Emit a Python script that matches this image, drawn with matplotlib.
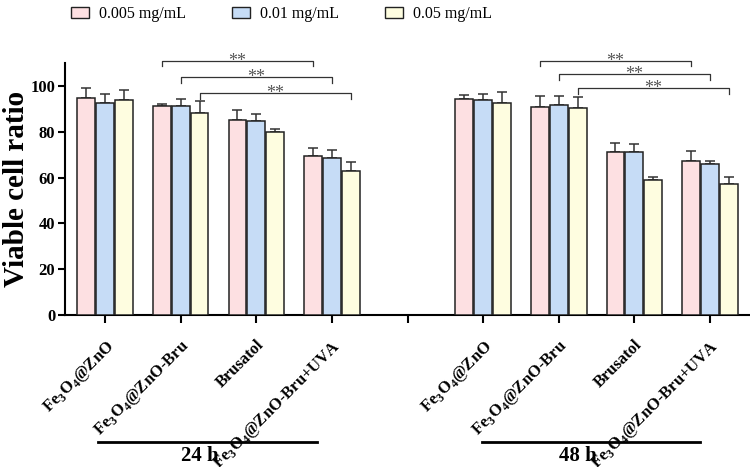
import matplotlib
matplotlib.use('Agg')
import matplotlib.pyplot as plt
import numpy as np
from matplotlib.patches import Patch

plt.rcParams['font.family'] = 'Liberation Serif'
plt.rcParams['mathtext.fontset'] = 'custom'
plt.rcParams['mathtext.rm'] = 'Liberation Serif:bold'
plt.rcParams['mathtext.bf'] = 'Liberation Serif:bold'

# Data
groups = ['Fe$_3$O$_4$@ZnO', 'Fe$_3$O$_4$@ZnO-Bru', 'Brusatol', 'Fe$_3$O$_4$@ZnO-Bru+UVA']
doses = ['0.005 mg/mL', '0.01 mg/mL', '0.05 mg/mL']
times = ['24 h', '48 h']

mean_24h = [
    [94.8, 91.2, 85.2, 69.3],   # 0.005
    [92.5, 91.2, 84.6, 68.4],   # 0.01
    [93.8, 88.3, 79.8, 63.0],   # 0.05
]
sd_24h = [
    [4.4, 0.8, 4.4, 3.6],
    [3.8, 2.9, 3.2, 3.5],
    [4.3, 5.1, 1.4, 3.8],
]
mean_48h = [
    [94.4, 90.9, 71.2, 67.4],
    [93.8, 91.5, 71.0, 65.9],
    [92.6, 90.2, 58.8, 57.3],
]
sd_48h = [
    [1.6, 4.9, 3.9, 4.1],
    [2.9, 4.0, 3.8, 1.2],
    [4.7, 5.1, 1.5, 2.8],
]

# significance brackets: (group a, group b, dose index, height)
sig_24h = [(1, 3, 0, 110.9), (1, 3, 1, 103.8), (1, 3, 2, 96.8)]
sig_48h = [(1, 3, 0, 110.9), (1, 3, 1, 105.1), (1, 3, 2, 99.0)]

colors = ['#fde0e2', '#c6dcf6', '#fefde0']

fig = plt.figure(figsize=(7.5, 4.67), dpi=100)
ax = fig.add_axes([0.0867, 0.3255, 0.9133, 0.5395])

x24 = np.arange(4)
x48 = np.arange(4) + 5
width = 0.235
offset = 0.25

for xs, means, sds in [(x24, mean_24h, sd_24h), (x48, mean_48h, sd_48h)]:
    for i in range(3):
        pos = xs + (i - 1) * offset
        ax.bar(pos, means[i], width=width, color=colors[i], edgecolor='#222222',
               linewidth=1.1, zorder=3)
        ax.errorbar(pos, means[i], yerr=[np.zeros(4), sds[i]], fmt='none',
                    ecolor='#333333', elinewidth=1.1, capsize=3.3, capthick=1.1,
                    zorder=2)

for xs, sigs in [(x24, sig_24h), (x48, sig_48h)]:
    for a, b, d, h in sigs:
        xa = xs[a] + (d - 1) * offset
        xb = xs[b] + (d - 1) * offset
        ax.plot([xa, xa, xb, xb], [h - 2.4, h, h, h - 2.4], color='#333333',
                lw=0.9, clip_on=False, zorder=4)
        ax.text((xa + xb) / 2, h - 0.2, '**', ha='center', va='center',
                fontsize=13, color='#555555', clip_on=False)

ax.set_xlim(-0.53, 8.53)
ax.set_ylim(0, 110)
ax.set_yticks([0, 20, 40, 60, 80, 100])
ax.set_xticks(np.arange(9))
ax.set_xticklabels(groups + [''] + groups, rotation=45, ha='right',
                   rotation_mode='anchor', fontsize=12, fontweight='bold')
for lab in ax.get_yticklabels():
    lab.set_fontweight('bold')
    lab.set_fontsize(12)
ax.tick_params(axis='x', direction='out', length=6, width=1.5, pad=10)
ax.tick_params(axis='y', direction='out', length=5, width=1.5, pad=2)
for s in ['top', 'right']:
    ax.spines[s].set_visible(False)
for s in ['left', 'bottom']:
    ax.spines[s].set_linewidth(1.5)

ax.set_ylabel('Viable cell ratio', fontsize=21, fontweight='bold', labelpad=0)

# time group lines and labels
spans = [(-0.09, -0.2), (-0.02, -0.13)]
for xs, t, (s0, s1) in zip([x24, x48], times, spans):
    x0 = ax.transData.transform((xs[0] + s0, 0))[0] / fig.bbox.width
    x1 = ax.transData.transform((xs[-1] + s1, 0))[0] / fig.bbox.width
    fig.add_artist(plt.Line2D([x0, x1], [0.0535, 0.0535], color='black', lw=2))
    xm = ax.transData.transform(((xs[0] + xs[-1]) / 2 - 0.25, 0))[0] / fig.bbox.width
    fig.text(xm, 0.013, t, ha='center', va='baseline', fontsize=15, fontweight='bold')

handles = [Patch(facecolor=c, edgecolor='#222222', linewidth=1) for c in colors]
fig.legend(handles, doses, loc='center left', bbox_to_anchor=(0.094, 0.97), ncol=3,
           frameon=False, fontsize=11.5, handlelength=1.13, handleheight=0.75,
           columnspacing=2.9, handletextpad=0.63, borderaxespad=0, borderpad=0)

fig.savefig('out.png', dpi=100)
